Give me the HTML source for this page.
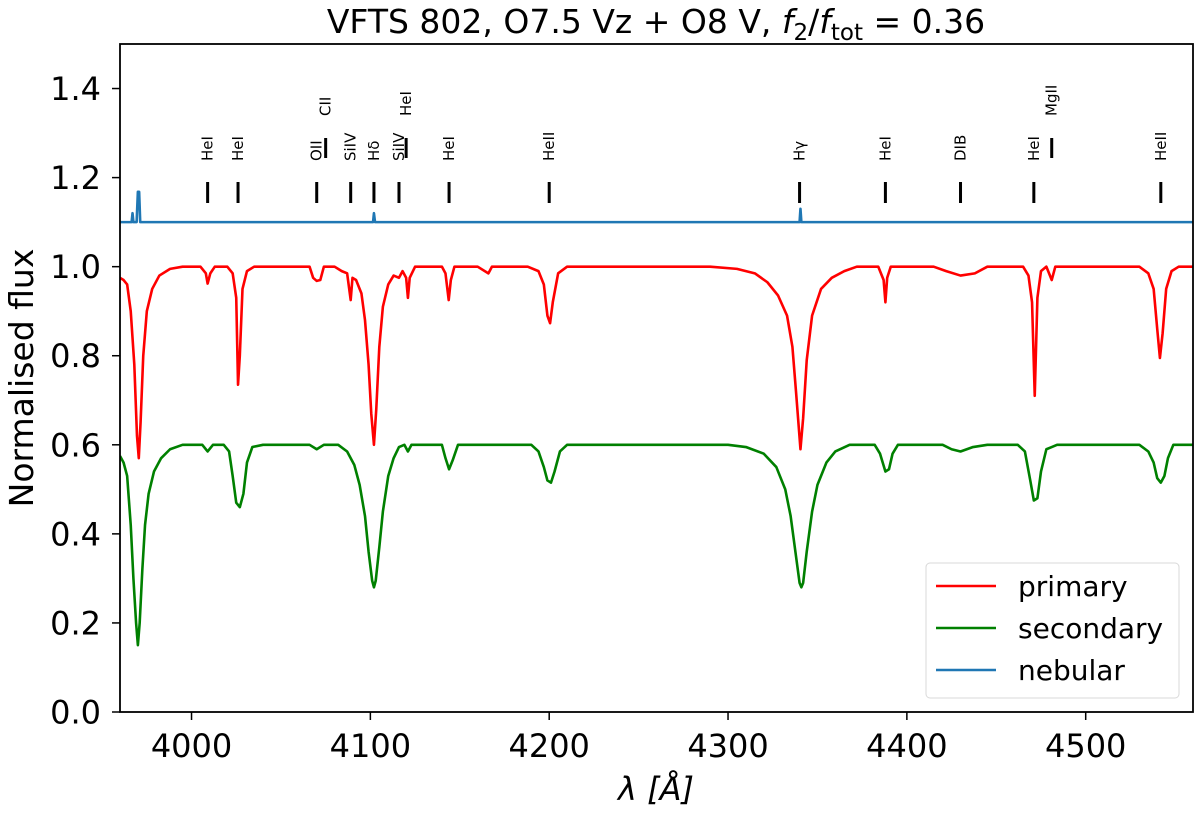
<!DOCTYPE html>
<html><head><meta charset="utf-8"><style>
html,body{margin:0;padding:0;background:#fff;}
svg{display:block;font-family:"DejaVu Sans","Liberation Sans",sans-serif;}
</style></head><body>
<svg id="chart" width="1200" height="813" viewBox="0 0 1200 813">
<text x="656" y="33" font-size="33" text-anchor="middle">VFTS 802, O7.5 Vz + O8 V, <tspan font-style="italic">f</tspan><tspan font-size="23" dy="7">2</tspan><tspan dy="-7">/</tspan><tspan font-style="italic">f</tspan><tspan font-size="23" dy="7">tot</tspan><tspan dy="-7"> = 0.36</tspan></text>
<g id="plot"></g>
</svg>
<script>
const xTicks = [4000, 4100, 4200, 4300, 4400, 4500];
const yTicks = [0.0, 0.2, 0.4, 0.6, 0.8, 1.0, 1.2, 1.4];
const yTickLabels = ["0.0","0.2","0.4","0.6","0.8","1.0","1.2","1.4"];

const primaryWl = [3960,3962,3964,3966,3968,3969.5,3970.5,3971.5,3973,3975,3978,3982,3988,3995,4005,4008,4009,4010.5,4013,4020,4023,4025,4026,4027,4028.5,4031,4035,4066,4068,4070,4072,4074,4080,4084,4087,4089,4090,4092,4095,4097,4099,4100.5,4102,4103.3,4105,4107,4110,4113,4116,4118,4120,4121,4122,4125,4140,4142,4143.8,4145,4147,4160,4166,4168,4188,4194,4197,4199,4200.5,4202,4205,4210,4290,4305,4315,4322,4328,4333,4336,4338,4340.5,4342,4344,4347,4352,4358,4365,4372,4384,4387,4388,4389,4391,4415,4422,4430,4438,4445,4465,4468,4470,4471.5,4473,4475,4478,4481,4483,4530,4535,4538,4540,4541.5,4543,4545,4548,4552,4560];
const primaryFlux = [0.975,0.97,0.96,0.90,0.78,0.62,0.57,0.65,0.80,0.90,0.95,0.98,0.995,1.0,1.0,0.985,0.962,0.985,1.0,1.0,0.985,0.93,0.735,0.80,0.95,0.99,1.0,1.0,0.975,0.968,0.97,1.0,1.0,0.99,0.985,0.925,0.975,0.97,0.94,0.88,0.78,0.67,0.60,0.68,0.82,0.91,0.96,0.98,0.975,0.99,0.975,0.93,0.975,1.0,1.0,0.985,0.925,0.97,1.0,1.0,0.985,1.0,1.0,0.99,0.96,0.89,0.873,0.92,0.985,1.0,1.0,0.995,0.985,0.965,0.935,0.89,0.82,0.72,0.59,0.66,0.79,0.89,0.95,0.975,0.99,1.0,1.0,0.97,0.92,0.975,1.0,1.0,0.99,0.98,0.985,1.0,1.0,0.98,0.92,0.71,0.93,0.99,1.0,0.97,1.0,1.0,0.985,0.95,0.86,0.795,0.85,0.95,0.99,1.0,1.0];

const secondaryWl = [3960,3962,3964,3966,3967.5,3969,3970,3971,3972.5,3974,3976,3979,3983,3988,3995,4006,4009,4012,4018,4021,4023,4025,4027,4029,4031,4034,4040,4066,4070,4074,4082,4087,4091,4094,4097,4099,4101,4102,4103,4105,4107,4110,4113,4116,4119,4121,4123,4140,4142,4144,4146,4149,4190,4194,4197,4199,4201,4203,4206,4210,4300,4310,4320,4327,4332,4335,4338,4340,4341,4342,4344,4347,4350,4355,4360,4368,4382,4385,4388,4390,4392,4395,4420,4425,4430,4437,4445,4462,4466,4469,4471,4473,4475,4478,4481,4484,4530,4535,4538,4540,4542,4544,4546,4549,4560];
const secondaryFlux = [0.575,0.56,0.53,0.42,0.30,0.20,0.15,0.20,0.32,0.42,0.49,0.54,0.57,0.59,0.6,0.6,0.585,0.6,0.6,0.585,0.53,0.47,0.46,0.49,0.56,0.595,0.6,0.6,0.59,0.6,0.6,0.585,0.555,0.51,0.44,0.36,0.295,0.28,0.295,0.37,0.45,0.53,0.57,0.595,0.6,0.585,0.6,0.6,0.57,0.545,0.565,0.6,0.6,0.585,0.55,0.52,0.515,0.54,0.585,0.6,0.6,0.595,0.58,0.55,0.5,0.44,0.35,0.29,0.28,0.29,0.36,0.45,0.51,0.56,0.585,0.6,0.6,0.58,0.54,0.545,0.58,0.6,0.6,0.59,0.585,0.595,0.6,0.6,0.585,0.52,0.475,0.48,0.54,0.59,0.595,0.6,0.6,0.585,0.56,0.525,0.515,0.53,0.57,0.6,0.6];

const nebularWl = [3960,3966.5,3967,3967.5,3969.3,3970,3970.7,3971.3,4101.5,4102,4102.6,4340,4340.5,4341,4560];
const nebularFlux = [1.1,1.1,1.12,1.1,1.1,1.168,1.168,1.1,1.1,1.12,1.1,1.1,1.13,1.1,1.1];

const lineNames = ["HeI","HeI","OII","CII","SiIV","Hδ","SiIV","HeI","HeI","HeII","Hγ","HeI","DIB","HeI","MgII","HeII"];
const lineWl = [4009,4026,4070,4075,4089,4102,4116,4120,4144,4200,4340,4388,4430,4471,4481,4542];
const lineRaised = [0,0,0,1,0,0,0,1,0,0,0,0,0,0,1,0];

const X0=120, X1=1193, Y0=712, Y1=44;
const xMin=3960, xMax=4560, yMin=0, yMax=1.5;
const xs = v => X0 + (v - xMin) / (xMax - xMin) * (X1 - X0);
const ys = v => Y0 - (v - yMin) / (yMax - yMin) * (Y0 - Y1);
const NS = "http://www.w3.org/2000/svg";
const plot = document.getElementById('plot');
function mk(tag, attrs, parent) {
  const e = document.createElementNS(NS, tag);
  for (const k in attrs) e.setAttribute(k, attrs[k]);
  (parent || plot).appendChild(e);
  return e;
}

const clip = mk('clipPath', {id:'pc'});
mk('rect', {x:X0, y:Y1, width:X1-X0, height:Y0-Y1}, clip);

function series(wl, fl, color, name) {
  const d = wl.map((w,i)=>(i?'L':'M')+xs(w).toFixed(2)+','+ys(fl[i]).toFixed(2)).join('');
  const p = mk('path', {d:d, fill:'none', stroke:color, 'stroke-width':2.6, 'stroke-linejoin':'round', 'clip-path':'url(#pc)'});
  
  
}
series(nebularWl, nebularFlux, '#1f77b4', 'nebular-line');
series(primaryWl, primaryFlux, '#ff0000', 'primary-line');
series(secondaryWl, secondaryFlux, '#008000', 'secondary-line');

lineWl.forEach((w,i)=>{
  const x = xs(w);
  const up = lineRaised[i];
  const g = mk('g', {});
  
  
  const t0 = up ? 138 : 182, t1 = up ? 158 : 203;
  mk('line', {x1:x, x2:x, y1:t0, y2:t1, stroke:'#000', 'stroke-width':3}, g);
  const ty = up ? 116 : 161;
  const t = mk('text', {x:x+5, y:ty, 'font-size':15, transform:`rotate(-90 ${x+5} ${ty})`}, g);
  t.textContent = lineNames[i];
});

const frame = mk('rect', {x:X0, y:Y1, width:X1-X0, height:Y0-Y1, fill:'none', stroke:'#000', 'stroke-width':1.8});



xTicks.forEach(v=>{
  const x = xs(v);
  mk('line', {x1:x, x2:x, y1:Y0, y2:Y0+8, stroke:'#000', 'stroke-width':1.5});
  const t = mk('text', {x:x, y:757, 'font-size':32, 'text-anchor':'middle'});
  
  
  t.textContent = v;
});
yTicks.forEach((v,i)=>{
  const y = ys(v);
  mk('line', {x1:X0-8, x2:X0, y1:y, y2:y, stroke:'#000', 'stroke-width':1.5});
  const t = mk('text', {x:X0-19, y:y+11.5, 'font-size':32, 'text-anchor':'end'});
  
  
  t.textContent = yTickLabels[i];
});

const xl = mk('text', {x:656, y:800, 'font-size':32, 'text-anchor':'middle', 'font-style':'italic'});


xl.textContent = 'λ [Å]';
const yl = mk('text', {x:33, y:378, 'font-size':33, 'text-anchor':'middle', transform:'rotate(-90 33 378)'});


yl.textContent = 'Normalised flux';

const lg = mk('g', {});


mk('rect', {x:926, y:563, width:253, height:135, rx:4, fill:'#fff', 'fill-opacity':0.85, stroke:'#d8d8d8', 'stroke-width':1}, lg);
[['primary','#ff0000'],['secondary','#008000'],['nebular','#1f77b4']].forEach((e,i)=>{
  const y = 586 + i*42;
  const g = mk('g', {}, lg);
  
  
  mk('line', {x1:936, x2:996, y1:y, y2:y, stroke:e[1], 'stroke-width':2.6}, g);
  const t = mk('text', {x:1018, y:y+10, 'font-size':28}, g);
  t.textContent = e[0];
});
</script>
</body></html>
